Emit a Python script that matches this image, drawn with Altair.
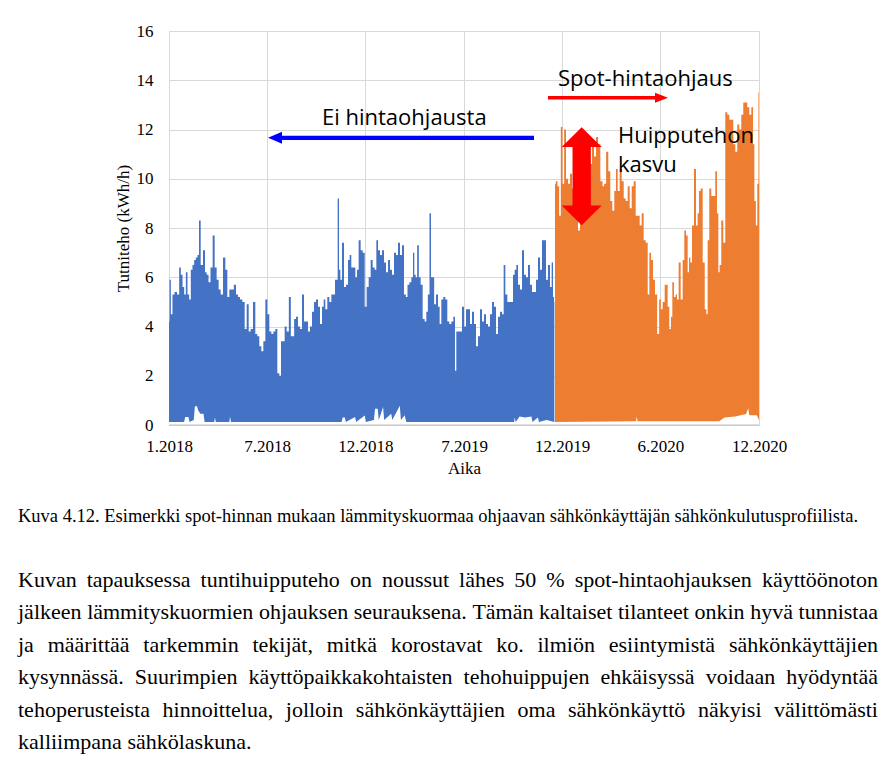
import altair as alt
import pandas as pd

START = pd.Timestamp("2018-01-01")

# Hourly peak power envelope, days counted from 1.1.2018
blue_days = [
    0.0, 1.9, 4.9, 8.0, 12.6, 17.3, 20.4, 23.5, 26.6, 29.7, 32.8, 35.8, 38.9, 42.0, 45.1, 48.2,
    51.3, 54.4, 56.9, 60.6, 65.5, 68.0, 71.7, 74.8, 79.1, 82.8, 86.5, 90.2, 93.9, 97.7, 102.6,
    106.3, 110.0, 113.7, 118.1, 122.4, 126.1, 129.8, 133.5, 138.4, 142.2, 145.9, 149.6, 153.3,
    158.2, 161.9, 165.6, 169.3, 173.1, 176.8, 180.5, 184.2, 187.9, 191.6, 195.3, 199.0, 202.7,
    206.4, 208.9, 212.6, 216.3, 220.0, 224.4, 227.4, 230.5, 233.6, 237.3, 241.0, 244.8, 248.5,
    252.2, 255.9, 259.6, 263.3, 267.0, 270.7, 274.4, 278.1, 281.8, 285.6, 288.0, 291.7, 295.4,
    299.1, 302.9, 306.6, 309.0, 311.5, 314.0, 316.5, 318.9, 322.6, 326.3, 330.1, 333.8, 336.2,
    339.9, 343.6, 347.4, 349.8, 353.5, 357.2, 361.0, 364.7, 368.4, 372.1, 375.8, 379.5, 383.2,
    385.7, 389.4, 393.1, 396.8, 400.5, 404.2, 407.9, 411.6, 415.3, 419.1, 422.8, 426.5, 430.2,
    433.9, 437.6, 440.7, 443.8, 447.5, 451.2, 453.7, 456.1, 458.6, 461.7, 464.8, 468.5, 472.2,
    475.9, 478.4, 481.5, 484.6, 487.0, 490.1, 493.2, 496.9, 500.6, 503.1, 506.8, 510.5, 514.2,
    517.9, 521.7, 525.4, 529.1, 531.5, 534.0, 537.7, 541.4, 545.1, 548.9, 552.6, 556.3, 560.0,
    563.7, 567.4, 571.1, 574.8, 578.5, 582.2, 585.9, 589.6, 593.4, 597.1, 600.8, 604.5, 608.2,
    611.9, 615.6, 619.3, 621.8, 625.5, 629.2, 632.9, 636.6, 639.1, 642.8, 645.3, 649.0, 652.7,
    656.4, 660.1, 663.8, 667.5, 671.2, 674.9, 678.6, 682.4, 686.1, 689.8, 693.5, 697.2, 700.9,
    704.6, 708.3, 710.8, 713.3, 714.5,
]
blue_peak = [
    4.2, 5.9, 4.5, 5.3, 5.4, 5.3, 6.4, 6.1, 5.6, 5.3, 6.2, 5.3, 5.1, 6.3, 6.5, 6.7,
    6.8, 6.9, 8.3, 6.5, 7.1, 6.2, 6.1, 5.8, 6.4, 7.7, 6.4, 5.9, 5.5, 5.3, 6.8,
    6.3, 5.2, 5.5, 5.5, 5.7, 5.3, 5.2, 5.1, 5.0, 3.9, 4.9, 3.8, 3.9,
    5.0, 3.7, 3.6, 3.2, 3.0, 3.4, 5.1, 4.5, 3.8, 3.7, 3.8, 3.9, 2.1,
    2.0, 3.4, 3.4, 4.0, 3.8, 5.2, 3.6, 3.6, 4.3, 4.4, 4.0, 3.9, 5.3,
    4.2, 4.2, 3.8, 4.0, 4.6, 5.0, 5.1, 4.8, 4.1, 4.8, 5.1, 4.7, 5.2,
    5.0, 5.3, 5.3, 5.9, 5.9, 9.2, 6.3, 5.9, 7.4, 5.6, 5.7, 6.7, 6.9,
    6.4, 6.4, 6.0, 6.3, 7.5, 7.1, 7.0, 4.8, 5.6, 6.0, 6.7, 6.4, 6.3,
    7.5, 7.1, 6.9, 7.1, 6.6, 6.2, 6.7, 6.3, 6.1, 7.0, 6.9, 7.4, 6.9,
    7.3, 5.3, 5.2, 5.7, 5.8, 6.0, 7.0, 6.1, 6.0, 7.3, 6.0, 5.7, 4.3,
    4.2, 4.6, 5.3, 8.6, 6.0, 6.0, 4.9, 5.3, 4.8, 4.1, 5.1, 5.2, 5.1,
    4.2, 4.1, 4.2, 4.4, 2.2, 3.8, 3.8, 3.8, 4.8, 4.0, 4.7, 4.7, 4.1,
    4.6, 4.1, 3.2, 3.6, 4.7, 4.2, 4.5, 4.1, 4.0, 4.5, 5.0, 4.8, 3.7,
    4.4, 4.6, 4.5, 6.5, 5.3, 5.0, 5.0, 5.0, 6.1, 6.3, 6.5, 5.7, 5.5,
    7.1, 6.1, 6.0, 6.5, 5.7, 5.4, 5.4, 5.9, 6.8, 6.3, 7.5, 7.5, 5.9,
    6.5, 5.6, 6.6, 5.2, 5.0,
]

orange_days = [
    715.7, 718.9, 721.8, 725.0, 728.1, 731.1, 734.3, 738.0, 741.7, 745.4, 749.1, 752.8, 756.5,
    760.2, 763.9, 767.6, 771.3, 775.1, 778.8, 782.5, 786.2, 789.9, 793.6, 797.3, 802.3, 805.3,
    808.4, 812.7, 816.4, 820.1, 823.8, 827.5, 830.1, 833.8, 837.5, 841.3, 845.0, 848.7, 852.4,
    856.1, 859.8, 863.5, 867.2, 870.9, 874.6, 878.3, 882.0, 885.8, 889.5, 891.9, 895.6, 899.3,
    903.0, 907.3, 910.4, 913.5, 917.3, 921.0, 923.4, 925.8, 929.5, 932.1, 934.5, 938.2, 940.6,
    943.2, 946.9, 950.6, 954.3, 956.8, 960.5, 962.9, 965.5, 967.9, 971.6, 975.3, 979.0, 981.4,
    984.0, 987.7, 991.5, 995.2, 997.6, 1000.0, 1003.7, 1007.4, 1011.1, 1014.8, 1017.4, 1019.8,
    1022.2, 1025.9, 1029.6, 1033.4, 1037.1, 1040.8, 1044.5, 1048.2, 1051.9, 1055.6, 1059.3,
    1063.0, 1066.7, 1070.4, 1074.2, 1077.9, 1081.6, 1084.2, 1086.6, 1089.7, 1092.0, 1094.0,
]
orange_peak = [
    9.8, 9.9, 9.7, 8.5, 12.1, 9.8, 12.0, 10.0, 9.8, 10.2, 9.6, 8.6, 10.3,
    7.9, 10.0, 10.5, 9.9, 10.8, 10.2, 10.6, 11.4, 10.9, 11.7, 11.4, 9.9, 9.7,
    9.8, 11.1, 10.3, 9.1, 8.7, 9.5, 10.4, 9.5, 10.4, 9.9, 9.2, 9.1, 9.7,
    8.8, 9.7, 9.9, 8.5, 8.5, 8.1, 8.6, 7.5, 7.4, 5.3, 7.0, 6.7, 5.9,
    5.3, 3.7, 5.1, 4.7, 5.0, 5.7, 5.7, 4.8, 3.9, 4.4, 5.8, 5.2, 5.3,
    5.1, 6.6, 5.1, 6.7, 7.9, 7.7, 6.2, 6.8, 6.6, 8.1, 10.4, 8.1, 8.6,
    9.5, 9.6, 6.6, 4.7, 4.5, 7.5, 9.6, 9.3, 9.3, 10.3, 8.6, 6.2,
    6.5, 8.3, 7.4, 12.7, 12.6, 12.4, 12.4, 11.4, 11.1, 12.2, 12.0,
    12.6, 13.1, 13.1, 12.9, 12.6, 12.9, 11.4, 9.1, 8.1, 9.8, 13.5,
]

# Lowest hourly load (base load) under the peaks
base_days = [
    0, 28, 30, 36, 38, 46, 48, 52, 54, 58, 64, 66, 84, 85, 87, 112, 113, 115, 320, 322, 326,
    328, 345, 347, 363, 365, 380, 382, 387, 389, 397, 399, 412, 414, 428, 430, 437, 440, 640,
    641, 643, 650, 660, 672, 674, 684, 686, 700, 715, 866, 867, 869, 1020, 1030, 1050, 1070,
    1074, 1076, 1090, 1094,
]
base_load = [
    0.12, 0.12, 0.32, 0.32, 0.12, 0.2, 0.76, 0.76, 0.6, 0.46, 0.46, 0.12, 0.12, 0.3, 0.12, 0.12,
    0.35, 0.12, 0.12, 0.3, 0.3, 0.12, 0.32, 0.12, 0.39, 0.12, 0.2, 0.66, 0.66, 0.2, 0.73, 0.2,
    0.46, 0.2, 0.78, 0.2, 0.4, 0.12, 0.12, 0.3, 0.12, 0.35, 0.3, 0.35, 0.12, 0.3, 0.12, 0.2,
    0.12, 0.15, 0.35, 0.15, 0.15, 0.3, 0.35, 0.45, 0.68, 0.4, 0.4, 0.2,
]

tick_dates = ["2018-01-01", "2018-07-02", "2018-12-31", "2019-07-02",
              "2019-12-31", "2020-06-30", "2020-12-30"]
y_ticks = [0, 2, 4, 6, 8, 10, 12, 14, 16]

caption = ("Kuva 4.12. Esimerkki spot-hinnan mukaan lämmityskuormaa ohjaavan "
           "sähkönkäyttäjän sähkönkulutusprofiilista.")
paragraph = [
    "Kuvan tapauksessa tuntihuipputeho on noussut lähes 50 % spot-hintaohjauksen käyttöönoton",
    "jälkeen lämmityskuormien ohjauksen seurauksena. Tämän kaltaiset tilanteet onkin hyvä tunnistaa",
    "ja määrittää tarkemmin tekijät, mitkä korostavat ko. ilmiön esiintymistä sähkönkäyttäjien",
    "kysynnässä. Suurimpien käyttöpaikkakohtaisten tehohuippujen ehkäisyssä voidaan hyödyntää",
    "tehoperusteista hinnoittelua, jolloin sähkönkäyttäjien oma sähkönkäyttö näkyisi välittömästi",
    "kalliimpana sähkölaskuna.",
]

BLUE = "#4472C4"
ORANGE = "#ED7D31"
GRID = "#D9D9D9"
SERIF = "Liberation Serif"
SANS = "Open Sans"


def to_dates(days):
    return START + pd.to_timedelta(days, unit="D")


def dt(s):
    t = pd.Timestamp(s)
    return alt.DateTime(year=t.year, month=t.month, date=t.day)


blue = pd.DataFrame({"aika": to_dates(blue_days), "teho": blue_peak})
orange = pd.DataFrame({"aika": to_dates(orange_days), "teho": orange_peak})
base = pd.DataFrame({"aika": to_dates(base_days), "teho": base_load})

X_SCALE = alt.Scale(domain=[dt(tick_dates[0]), dt(tick_dates[-1])], nice=False)
X_AXIS = alt.Axis(
    values=[dt(d) for d in tick_dates], format="%-m.%Y", title="Aika",
    grid=True, gridColor=GRID, gridWidth=1, domain=False, ticks=False,
    labelFont=SERIF, labelFontSize=17, labelColor="black", labelPadding=13,
    labelOverlap=False, labelFlush=False,
    titleFont=SERIF, titleFontSize=17, titleFontWeight="normal", titleColor="black",
    titlePadding=6,
)
Y_SCALE = alt.Scale(domain=[0, 16], nice=False)
Y_AXIS = alt.Axis(
    values=y_ticks, title="Tutniteho (kWh/h)",
    grid=True, gridColor=GRID, gridWidth=1, domain=True, domainColor=GRID, ticks=False,
    labelFont=SERIF, labelFontSize=17, labelColor="black", labelPadding=16,
    titleFont=SERIF, titleFontSize=17, titleFontWeight="normal", titleColor="black",
    titlePadding=4,
)


def xe(field="aika"):
    return alt.X(f"{field}:T", scale=X_SCALE, axis=X_AXIS, title="Aika")


def ye(field="teho"):
    return alt.Y(f"{field}:Q", scale=Y_SCALE, axis=Y_AXIS, title="Tutniteho (kWh/h)")


blue_area = alt.Chart(blue).mark_area(color=BLUE, interpolate="step", opacity=1).encode(
    x=xe(), y=ye())
orange_area = alt.Chart(orange).mark_area(color=ORANGE, interpolate="step", opacity=1).encode(
    x=xe(), y=ye())
base_gap = alt.Chart(base).mark_area(color="white", opacity=1).encode(x=xe(), y=ye())
baseline = alt.Chart(pd.DataFrame({"teho": [0]})).mark_rule(color="#BFBFBF", strokeWidth=1).encode(
    y=ye())

# Arrows: "no price control" period and "spot price control" period
blue_line = alt.Chart(pd.DataFrame({
    "aika": to_dates([200]), "loppu": to_dates([676.8]), "teho": [11.66]})).mark_rule(
    color="#0000FF", strokeWidth=4.3, strokeCap="butt").encode(
    x=xe(), x2="loppu:T", y=ye())
blue_head = alt.Chart(pd.DataFrame({"aika": to_dates([183.6]), "teho": [11.66]})).mark_point(
    shape="M0,0L2,-0.857L2,0.857Z", size=196, filled=True, color="#0000FF",
    opacity=1, strokeWidth=0).encode(x=xe(), y=ye())
red_line = alt.Chart(pd.DataFrame({
    "aika": to_dates([702.7]), "loppu": to_dates([915.0]), "teho": [13.29]})).mark_rule(
    color="#FF0000", strokeWidth=3.7, strokeCap="butt").encode(
    x=xe(), x2="loppu:T", y=ye())
red_head = alt.Chart(pd.DataFrame({"aika": to_dates([925.3]), "teho": [13.29]})).mark_point(
    shape="M0,0L-2,-0.77L-2,0.77Z", size=169, filled=True, color="#FF0000",
    opacity=1, strokeWidth=0).encode(x=xe(), y=ye())
# Double-headed arrow marking the rise of the peak power
peak_arrow = alt.Chart(pd.DataFrame({"aika": to_dates([765.2]), "teho": [10.1]})).mark_point(
    shape=("M0,-2.45L1,-1.465L0.4575,-1.465L0.4575,1.465L1,1.465L0,2.45L-1,1.465"
           "L-0.4575,1.465L-0.4575,-1.465L-1,-1.465Z"),
    size=1600, filled=True, color="#FF0000", opacity=1, strokeWidth=0).encode(x=xe(), y=ye())

labels = pd.DataFrame({
    "px": [153, 389, 449, 449],
    "py": [94, 55, 112, 141],
    "teksti": ["Ei hintaohjausta", "Spot-hintaohjaus", "Huipputehon", "kasvu"],
})
label_text = alt.Chart(labels).mark_text(
    font=SANS, fontSize=22, align="left", baseline="alphabetic", color="black").encode(
    x=alt.X("px:Q", scale=None, axis=None), y=alt.Y("py:Q", scale=None, axis=None),
    text="teksti:N")

# Caption and body text below the figure, justified to the text column
TIMES_W = dict(a=444, b=500, c=444, d=500, e=444, f=333, g=500, h=500, i=278, j=278, k=500,
               l=278, m=778, n=500, o=500, p=500, q=500, r=333, s=389, t=278, u=500, v=500,
               w=722, x=500, y=500, z=444)
TIMES_W.update({"ä": 444, "ö": 500, "K": 722, "T": 611, "S": 556, " ": 250, ".": 250,
                ",": 250, "-": 333, "%": 833})


def times_width(s, size):
    return sum(TIMES_W.get(c, 500) for c in s) * size / 1000.0


TEXT_LEFT = -151
TEXT_WIDTH = 860
PARA_SIZE = 22
PARA_BASE = 556
PARA_LEAD = 32.4

rows = [{"px": TEXT_LEFT, "py": 491, "sana": caption, "koko": 18.5}]
for i, line in enumerate(paragraph):
    words = line.split(" ")
    widths = [times_width(w, PARA_SIZE) for w in words]
    if i < len(paragraph) - 1 and len(words) > 1:
        gap = (TEXT_WIDTH - sum(widths)) / (len(words) - 1)
    else:
        gap = times_width(" ", PARA_SIZE)
    x = TEXT_LEFT
    for w, wd in zip(words, widths):
        rows.append({"px": x, "py": PARA_BASE + i * PARA_LEAD, "sana": w, "koko": PARA_SIZE})
        x += wd + gap
body = pd.DataFrame(rows)
body_text = alt.Chart(body).mark_text(
    font=SERIF, align="left", baseline="alphabetic", color="black").encode(
    x=alt.X("px:Q", scale=None, axis=None), y=alt.Y("py:Q", scale=None, axis=None),
    size=alt.Size("koko:Q", scale=None, legend=None), text="sana:N")

chart = alt.layer(
    blue_area, orange_area, base_gap, baseline,
    blue_line, blue_head, red_line, red_head, peak_arrow,
    label_text, body_text,
).properties(
    width=590, height=394,
    padding={"left": 169, "top": 31, "right": 137, "bottom": 343},
    autosize=alt.AutoSizeParams(type="none"),
    background="white",
).configure_view(stroke=None)

chart.save("out.html", embed_options={"renderer": "svg", "actions": False})
